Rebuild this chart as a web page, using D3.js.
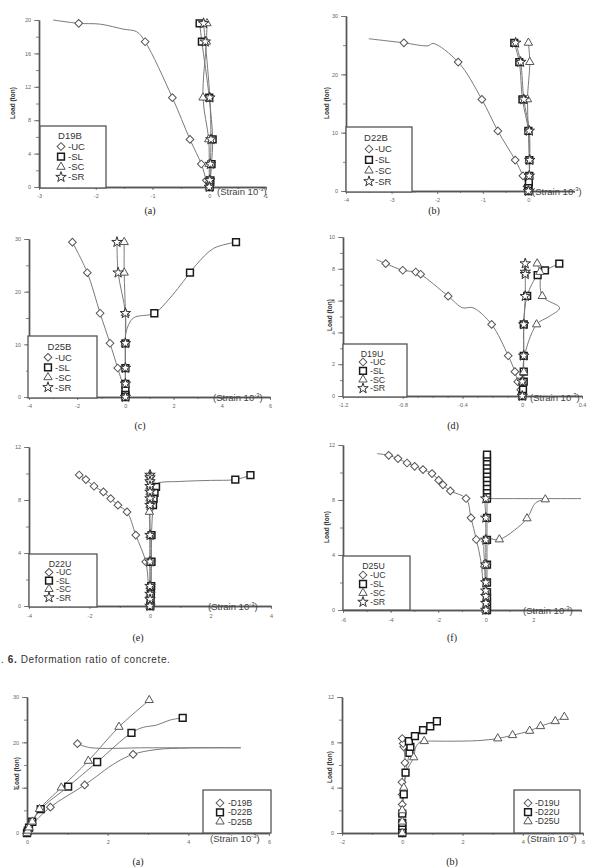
<!DOCTYPE html>
<html>
<head>
<meta charset="utf-8">
<script src="https://cdn.jsdelivr.net/npm/d3@7"></script>
<style>
  body { margin: 0; background: #fff; }
  svg { display: block; font-family: "Liberation Sans", Arial, sans-serif; }
</style>
</head>
<body>
<div id="fig"></div>
<script>
// ---- data: [strain, load] ; a third value 0 means "line only, no marker" ----
var d19bUC = [[-2.75,20,0],[-2.3,19.6],[-1.92,19.5,0],[-1.51,18.9,0],[-1.28,18.6,0],[-1.13,17.4],[-0.65,10.7],[-0.34,5.7],[-0.14,2.75],[-0.05,0.8],[0,0]];
var d19bSL = [[-0.17,19.6],[-0.13,17.4],[0,10.7],[0.06,5.7],[0.04,2.75],[0.02,0.8],[0.01,0]];
var d19bSC = [[-0.04,19.6],[-0.05,17.4],[-0.11,10.7],[-0.01,5.7],[0,2.75],[0,0.8],[0,0]];
var d19bSR = [[-0.1,19.6],[-0.07,17.4],[0.01,10.7],[0.03,5.7],[0.02,2.75],[0.01,0.8],[0,0]];

var d22bUC = [[-3.5,26.1,0],[-2.73,25.4],[-2.2,24.9,0],[-2.09,25.3,0],[-1.54,22.1],[-1.02,15.7],[-0.67,10.3],[-0.29,5.3],[-0.12,2.6],[-0.03,0.8],[0,0]];
var d22bSL = [[-0.31,25.4],[-0.2,22.1],[-0.13,15.7],[0,10.3],[0.02,5.3],[0.02,2.6],[0.01,1.5],[0,0.5],[0,0]];
var d22bSC = [[0,25.4],[0.03,22.1],[-0.02,15.7],[0,10.3],[0.02,5.3],[0.02,2.6],[0,0]];
var d22bSR = [[-0.28,25.4],[-0.17,22.1],[-0.1,15.7],[0.02,10.3],[0.03,5.3],[0.02,2.6],[0,0]];

var d25bUC = [[-2.2,29.4],[-1.58,23.6],[-1.05,15.9],[-0.64,10.2],[-0.32,5.5],[-0.12,2.5,0],[0,0]];
var d25bSL = [[4.59,29.4],[3.65,28.2,0],[2.96,25.2,0],[2.68,23.6],[1.85,18.8,0],[1.2,15.9],[0.33,15,0],[0.03,12.4,0],[0,10.2],[0,5.5],[0,2.5],[0,1.2],[0,0.4],[0,0]];
var d25bSC = [[-0.05,29.4],[-0.05,23.6],[0,15.9],[0,10.2],[0,5.5],[0,2.5],[0,0]];
var d25bSR = [[-0.35,29.4],[-0.3,23.6],[0,15.9],[0,10.2],[0,5.5],[0,2.5],[0,0]];

var d19uUC = [[-0.976,8.58,0],[-0.914,8.33],[-0.8,7.91],[-0.713,7.8],[-0.68,7.66],[-0.496,6.28],[-0.4,5.55,0],[-0.33,5.55,0],[-0.205,4.5],[-0.094,2.53],[-0.049,1.53],[-0.03,0.9],[-0.01,0.4],[0,0]];
var d19uSL = [[0.248,8.33],[0.152,7.9],[0.103,7.6],[0.033,6.3],[0.01,4.5],[0.01,2.53],[0.01,1.53],[0.01,0.9],[0.005,0.4],[0,0]];
var d19uSC = [[0.1,8.33],[0.118,7.8],[0.134,6.28],[0.25,5.54,0],[0.18,5.0,0],[0.096,4.5],[0.01,2.3,0],[0.01,1.5],[0,0.9],[0,0]];
var d19uSR = [[0.02,8.33],[0.02,7.8],[0.02,7.66],[0.02,6.28],[0.01,4.5],[0.01,2.53],[0,0.9],[0,0]];

var d22uUC = [[-2.34,9.89],[-2.12,9.54],[-1.85,9.04],[-1.54,8.61],[-1.3,8.11],[-1.06,7.61],[-0.76,7.1],[-0.47,5.35],[-0.14,3.34],[-0.05,1.5,0],[0,0]];
var d22uSL = [[3.32,9.87],[2.82,9.54],[2.0,9.48,0],[1.0,9.4,0],[0.25,9.25,0],[0.2,8.99],[0.15,8.54],[0.12,8.11],[0.1,7.61],[0.05,5.35],[0.05,3.34],[0.04,1.5],[0.03,0.9],[0.02,0.5],[0.01,0]];
var d22uSC = [[0,9.89],[0,9.54],[0,9.04],[0,8.61],[0,8.11],[0,7.61],[-0.02,7.1],[0,5.35],[0,3.34],[0,1.5],[0,0.9],[0,0]];
var d22uSR = [[0,9.89],[0,9.7],[0,9.4],[0,9.04],[0,8.61],[0,8.11],[0,7.61],[0,5.35],[0,3.34],[0,1.5],[0,0.9],[0,0.5],[0,0]];

var d25uUC = [[-4.57,11.37,0],[-4.08,11.25],[-3.69,11.01],[-3.31,10.69],[-2.99,10.45],[-2.64,10.21],[-2.26,9.92],[-1.98,9.44],[-1.8,9.1],[-1.49,8.66],[-0.83,8.11],[-0.62,6.7],[-0.4,5.13],[-0.2,3.5,0],[-0.1,1.5,0],[0,0]];
var d25uSL = [[0.05,0],[0.05,0.3],[0.05,0.6],[0.05,0.9],[0.05,1.3],[0.05,2.0],[0.05,3.3],[0.05,5.1],[0.05,6.7],[0.05,8.1],[0.05,8.4],[0.05,8.7],[0.05,9.0],[0.05,9.3],[0.05,9.6],[0.05,9.9],[0.05,10.2],[0.05,10.5],[0.05,10.8],[0.05,11.1],[0.05,11.3]];
var d25uSC = [[0,0],[0,1.3],[-0.05,3.3],[0,5.13],[0.57,5.13],[1.2,5.8,0],[1.73,6.66],[2.1,7.8,0],[2.5,8.04]];
var d25uSR = [[0,0],[0,0.5],[0,1.0],[0,1.4],[0,2.0],[0,3.3],[0,5.1],[0,6.7],[0,8.1],[0.1,8.1,0],[4,8.1,0]];

var sumD19B = [[0,0],[0.05,0.5],[0.1,1.5,0],[0.58,5.7],[1.43,10.6],[2.2,15.5,0],[2.63,17.35],[3.2,18.4,0],[4.0,18.75,0],[5.3,18.8,0],[3.0,18.8,0],[1.55,18.85,0],[1.25,19.7]];
var sumD22B = [[0,0],[0.02,0.5],[0.05,1.2],[0.13,2.48],[0.34,5.27],[1.02,10.24],[1.74,15.66],[2.59,22.1],[2.88,23.3,0],[3.21,23.8,0],[3.54,24.9,0],[3.86,25.4]];
var sumD25B = [[0,0],[0.02,0.5],[0.05,1.2],[0.13,2.5],[0.31,5.27],[0.85,10.0],[1.52,15.9],[2.28,23.4],[3.03,29.3]];

var sumD19U = [[0,0],[0,0.3],[0,0.9],[0,1.7],[0,2.52],[0,3.4],[-0.01,4.48],[0.09,6.2],[0.05,7.6],[0.03,7.9],[0,8.34]];
var sumD22U = [[0,0],[0,0.3],[0,0.6],[0,0.9],[0,1.7],[0.05,3.42],[0.11,5.33],[0.24,7.08],[0.27,7.6],[0.22,8.1],[0.42,8.55],[0.69,9.07],[0.93,9.42],[1.15,9.86]];
var sumD25U = [[0,0],[0,1],[0,2],[0.05,4],[0.15,5.5,0],[0.38,6.67],[0.45,7.6,0],[0.6,8.05,0],[0.73,8.1],[1.5,8.1,0],[2.5,8.15,0],[3.17,8.34],[3.66,8.63],[4.23,9.01],[4.59,9.42],[5.08,9.86],[5.38,10.24]];

// tick labels
var xTicksA = [-3,-2,-1,0,1], yTicksA = [0,4,8,12,16,20];
var xTicksB = [-4,-3,-2,-1,0], yTicksB = [0,10,20,30];
var xTicksC = [-4,-2,0,2,4,6], yTicksC = [0,10,20,30];
var xTicksD = [-1.2,-0.8,-0.4,0,0.4], yTicksD = [0,2,4,6,8,10];
var xTicksE = [-4,-2,0,2,4], yTicksE = [0,4,8,12];
var xTicksF = [-6,-4,-2,0,2], yTicksF = [0,4,8,12];
var xTicksG = [0,2,4,6], yTicksG = [0,10,20,30];
var xTicksH = [-2,0,2,4,6], yTicksH = [0,4,8,12];

var partNames = ["-UC", "-SL", "-SC", "-SR"];
var partSyms = ["diamond", "square", "triangle", "star"];

var panels = [
  {left:39, right:266, top:20, bottom:187, xd:[-3,1], yd:[0,20], xt:xTicksA, xm:0.5, yt:yTicksA, ym:2, pad:4,
   title:"D19B", series:[d19bUC,d19bSL,d19bSC,d19bSR], box:[40,126,66,62], ty:10, iy:20.5, dy:10.2, fs:9.5, mx:21, tx:28,
   strain:[217,195], cap:"(a)", capPos:[150,214], ylab:[13,103]},
  {left:346, right:574, top:16, bottom:191, xd:[-4,1], yd:[0,30], xt:xTicksB, xm:0.5, yt:yTicksB, ym:5, pad:4,
   title:"D22B", series:[d22bUC,d22bSL,d22bSC,d22bSR], box:[346,127,66,65], ty:10.5, iy:22, dy:10.8, fs:9.5, mx:23, tx:29,
   strain:[532,195], cap:"(b)", capPos:[434,214], ylab:[327,103]},
  {left:29, right:270, top:239, bottom:397, xd:[-4,6], yd:[0,30], xt:xTicksC, xm:1, yt:yTicksC, ym:5, pad:4,
   title:"D25B", series:[d25bUC,d25bSL,d25bSC,d25bSR], box:[28,336,69,62], ty:11, iy:21.3, dy:10, fs:9.5, mx:20, tx:27,
   strain:[213,401], cap:"(c)", capPos:[140,429], ylab:null},
  {left:343, right:582, top:237, bottom:396, xd:[-1.2,0.4], yd:[0,10], xt:xTicksD, xm:0.1, yt:yTicksD, ym:1, pad:4,
   title:"D19U", series:[d19uUC,d19uSL,d19uSC,d19uSR], box:[343,344,64,53], ty:9.5, iy:18, dy:8.8, fs:8.8, mx:20, tx:27,
   strain:[530,401], cap:"(d)", capPos:[453,429], ylab:[330,315]},
  {left:29, right:271, top:447, bottom:606, xd:[-4,4], yd:[0,12], xt:xTicksE, xm:1, yt:yTicksE, ym:2, pad:5.5,
   title:"D22U", series:[d22uUC,d22uSL,d22uSC,d22uSR], box:[29,554,68,53], ty:10, iy:18.3, dy:8.4, fs:8.8, mx:20, tx:27,
   strain:[208,610], cap:"(e)", capPos:[138,641], ylab:null},
  {left:343, right:581, top:445, bottom:610, xd:[-6,4], yd:[0,12], xt:xTicksF, xm:1, yt:yTicksF, ym:2, pad:5.5,
   title:"D25U", series:[d25uUC,d25uSL,d25uSC,d25uSR], box:[343,556,67,54], ty:10, iy:19, dy:9, fs:8.8, mx:20, tx:27,
   strain:[523,614], cap:"(f)", capPos:[452,641], ylab:[327,527]},
  {left:27, right:269, top:697, bottom:833, xd:[0,6], yd:[0,30], xt:xTicksG, xm:1, yt:yTicksG, ym:5, pad:4,
   title:null, names:["-D19B","-D22B","-D25B"], series:[sumD19B,sumD22B,sumD25B], box:[203,790,68,43], iy:13, dy:9.3, fs:8.5, mx:17, tx:25,
   strain:[210,842], cap:"(a)", capPos:[138,865], ylab:[17,773]},
  {left:342, right:583, top:697, bottom:833, xd:[-2,6], yd:[0,12], xt:xTicksH, xm:1, yt:yTicksH, ym:2, pad:4,
   title:null, names:["-D19U","-D22U","-D25U"], series:[sumD19U,sumD22U,sumD25U], box:[514,790,66,43], iy:13, dy:9.2, fs:8.5, mx:14, tx:21,
   strain:[527,842], cap:"(b)", capPos:[452,865], ylab:[330,767]}
];

var shapes = {
  diamond: d3.symbol(d3.symbolSquare, 30)(),
  square: d3.symbol(d3.symbolSquare, 46)(),
  triangle: d3.symbol(d3.symbolTriangle, 30)(),
  star: d3.symbol(d3.symbolStar, 34)()
};
var strokes = {diamond: "#555", square: "#1a1a1a", triangle: "#555", star: "#333"};
var widths = {diamond: 1, square: 1.5, triangle: 1, star: 1};

var svg = d3.select("#fig").append("svg")
    .attr("width", 590)
    .attr("height", 868);

function mark(g, type, cx, cy) {
  g.append("path")
      .attr("d", shapes[type])
      .attr("transform", "translate(" + cx + "," + cy + ")" + (type === "diamond" ? " rotate(45)" : ""))
      .attr("fill", "#fff")
      .attr("stroke", strokes[type])
      .attr("stroke-width", widths[type]);
}

function styleAxis(a) {
  a.select(".domain").attr("stroke", "#555").attr("stroke-width", 1.4);
  a.selectAll(".tick line").attr("stroke", "#666").attr("stroke-width", 0.8);
  a.selectAll(".tick text").attr("fill", "#666").attr("font-size", 5.5);
}

function drawPanel(p) {
  var x = d3.scaleLinear().domain(p.xd).range([p.left, p.right]);
  var y = d3.scaleLinear().domain(p.yd).range([p.bottom, p.top]);
  var g = svg.append("g");

  var xMinor = d3.range(p.xd[0], p.xd[1] + 1e-9, p.xm);
  var yMinor = d3.range(p.yd[0], p.yd[1] + 1e-9, p.ym);

  g.append("g")
      .attr("transform", "translate(0," + p.bottom + ")")
      .call(d3.axisBottom(x).tickValues(xMinor).tickSize(2).tickSizeOuter(0).tickFormat(""))
      .call(styleAxis);
  g.append("g")
      .attr("transform", "translate(0," + p.bottom + ")")
      .call(d3.axisBottom(x).tickValues(p.xt).tickSize(3).tickSizeOuter(0).tickPadding(p.pad).tickFormat(function(d) { return String(+d.toFixed(1)); }))
      .call(styleAxis);
  g.append("g")
      .attr("transform", "translate(" + p.left + ",0)")
      .call(d3.axisLeft(y).tickValues(yMinor).tickSize(3).tickSizeOuter(0).tickFormat(""))
      .call(styleAxis);
  g.append("g")
      .attr("transform", "translate(" + p.left + ",0)")
      .call(d3.axisLeft(y).tickValues(p.yt).tickSize(5).tickSizeOuter(0).tickPadding(3).tickFormat(function(d) { return String(d); }))
      .call(styleAxis);

  var line = d3.line()
      .x(function(d) { return x(d[0]); })
      .y(function(d) { return y(d[1]); })
      .curve(d3.curveCatmullRom.alpha(0.5));

  p.series.forEach(function(s) {
    g.append("path")
        .datum(s)
        .attr("d", line)
        .attr("fill", "none")
        .attr("stroke", "#7a7a7a")
        .attr("stroke-width", 1);
  });
  p.series.forEach(function(s, i) {
    s.forEach(function(d) {
      if (d[2] === 0) return;
      mark(g, partSyms[i], x(d[0]), y(d[1]));
    });
  });

  // legend
  var b = p.box;
  var lg = g.append("g");
  lg.append("rect")
      .attr("x", b[0]).attr("y", b[1]).attr("width", b[2]).attr("height", b[3])
      .attr("fill", "#fff").attr("stroke", "#555").attr("stroke-width", 1.3);
  if (p.title) {
    lg.append("text")
        .attr("x", b[0] + b[2] / 2 - 3).attr("y", b[1] + p.ty)
        .attr("dy", "0.35em")
        .attr("text-anchor", "middle")
        .attr("font-size", p.fs)
        .attr("fill", "#333")
        .text(p.title);
  }
  var names = p.names || partNames;
  names.forEach(function(n, i) {
    var cy = b[1] + p.iy + i * p.dy;
    mark(lg, partSyms[i], b[0] + p.mx, cy);
    lg.append("text")
        .attr("x", b[0] + p.tx).attr("y", cy)
        .attr("dy", "0.35em")
        .attr("font-size", p.fs)
        .attr("fill", "#333")
        .text(n);
  });

  // strain label
  var st = g.append("text")
      .attr("x", p.strain[0]).attr("y", p.strain[1])
      .attr("font-size", 9.5)
      .attr("fill", "#444");
  st.append("tspan").text("(Strain 10");
  st.append("tspan").attr("font-size", 6).attr("dy", -4).text("-3");
  st.append("tspan").attr("dy", 4).text(")");

  if (p.ylab) {
    g.append("text")
        .attr("transform", "translate(" + p.ylab[0] + "," + p.ylab[1] + ") rotate(-90)")
        .attr("text-anchor", "middle")
        .attr("dy", "0.35em")
        .attr("font-size", 6.5)
        .attr("font-weight", "bold")
        .attr("fill", "#333")
        .text("Load (ton)");
  }

  g.append("text")
      .attr("x", p.capPos[0]).attr("y", p.capPos[1])
      .attr("text-anchor", "middle")
      .attr("font-family", "'Liberation Serif', serif")
      .attr("font-size", 10)
      .attr("fill", "#222")
      .text(p.cap);
}

panels.forEach(drawPanel);

// figure caption between the two groups
var fc = svg.append("text")
    .attr("x", 1).attr("y", 663)
    .attr("font-size", 10)
    .attr("letter-spacing", 0.6)
    .attr("fill", "#333");
fc.append("tspan").text(". ");
fc.append("tspan").attr("font-weight", "bold").text("6.");
fc.append("tspan").text(" Deformation ratio of concrete.");
</script>
</body>
</html>
